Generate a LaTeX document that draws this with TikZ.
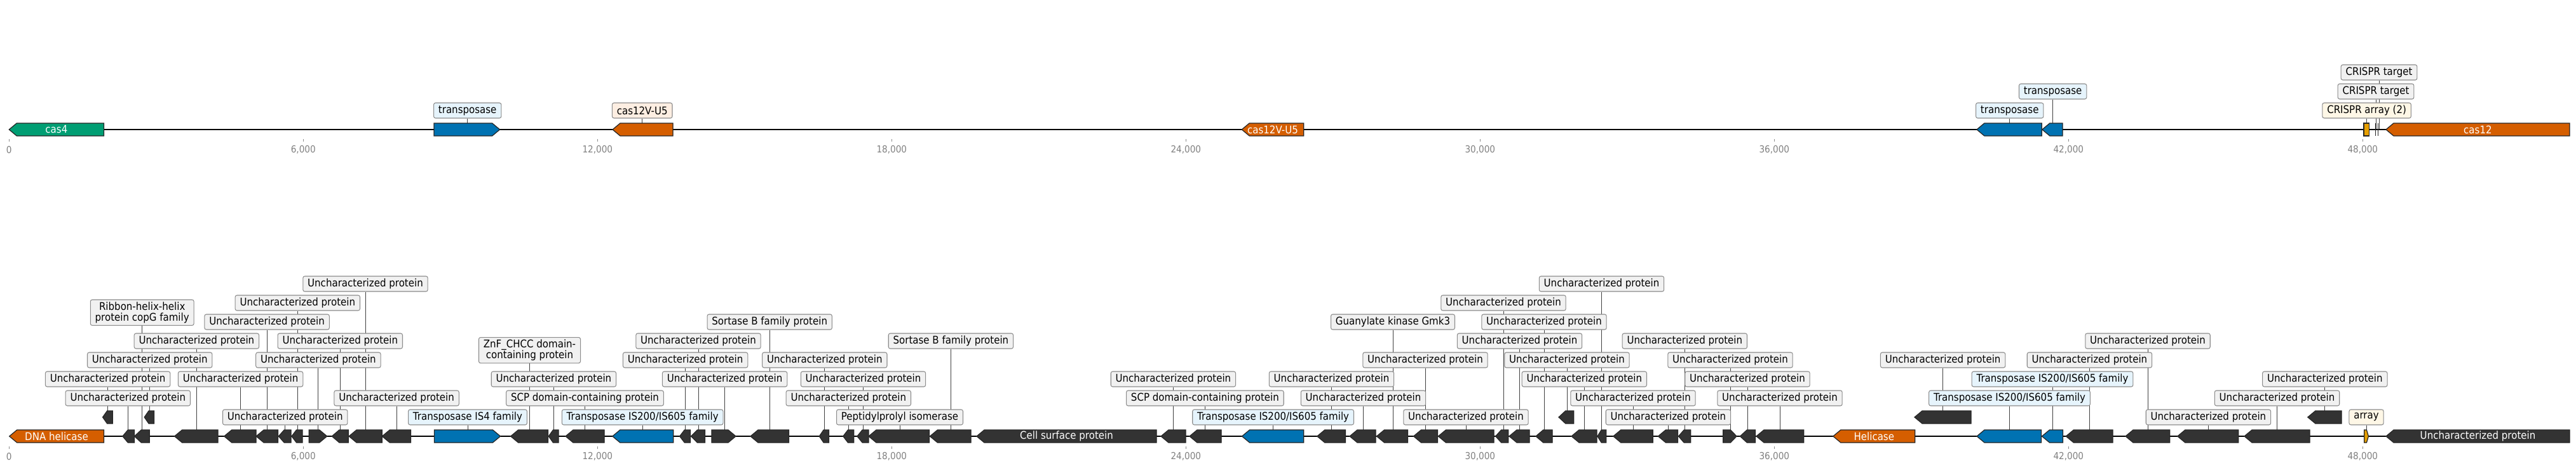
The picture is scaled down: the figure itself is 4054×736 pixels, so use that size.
\documentclass[tikz,border=0pt]{standalone}
\usepackage{fontspec}
\setmainfont{DejaVu Sans}[FakeStretch=0.9]
\usetikzlibrary{calc}

\definecolor{casgreen}{HTML}{009E73}
\definecolor{tnpblue}{HTML}{0072B2}
\definecolor{casorange}{HTML}{D55E00}
\definecolor{arrayyellow}{HTML}{E69F00}
\definecolor{hypo}{HTML}{333333}
\definecolor{boxgray}{HTML}{F1F1F1}
\definecolor{boxblue}{HTML}{E6F4FC}
\definecolor{boxorange}{HTML}{FDEEE2}
\definecolor{boxcream}{HTML}{FEF7E6}

\pgfdeclarelayer{bg}
\pgfsetlayers{bg,main}

% left / right pointing gene: start, end, centre y, fill
\newcommand{\lgene}[4]{%
  \pgfmathsetmacro\headlen{min(12,0.45*(#2-#1))}
  \draw[gene,fill=#4] (#1,#3) -- (#1+\headlen,#3-10) -- (#2,#3-10) -- (#2,#3+10) -- (#1+\headlen,#3+10) -- cycle;}
\newcommand{\rgene}[4]{%
  \pgfmathsetmacro\headlen{min(12,0.45*(#2-#1))}
  \draw[gene,fill=#4] (#1,#3-10) -- (#2-\headlen,#3-10) -- (#2,#3) -- (#2-\headlen,#3+10) -- (#1,#3+10) -- cycle;}
\newcommand{\unc}{Uncharacterized protein}

\tikzset{
  gene/.style={draw=black!85, line width=0.35pt},
  track/.style={line width=0.6pt},
  lbl/.style={draw=black!45, line width=0.3pt, fill=boxgray, rounded corners=0.8pt,
    inner xsep=2.1pt, inner ysep=1pt, minimum height=0.24cm, align=center,
    font=\fontsize{4.75}{4.9}\selectfont},
  tnplbl/.style={lbl, fill=boxblue},
  caslbl/.style={lbl, fill=boxorange},
  arraylbl/.style={lbl, fill=boxcream},
  leader/.style={black!75, line width=0.25pt},
  inlbl/.style={text=white, inner sep=0pt, font=\fontsize{4.75}{4.9}\selectfont},
  tickmark/.style={black!45, line width=0.25pt},
  ticklbl/.style={text=black!50, inner sep=0pt, font=\fontsize{4.3}{5}\selectfont}
}

\begin{document}
\begin{tikzpicture}[x=0.01cm, y=-0.01cm]
\useasboundingbox (0,0) rectangle (4054,736);

% backbones
\draw[track] (14.3,204) -- (4044,204);
\draw[track] (14.7,687) -- (4044,687);

% axes
\foreach \k/\lab in {0/0, 1/{6,000}, 2/{12,000}, 3/{18,000}, 4/{24,000},
    5/{30,000}, 6/{36,000}, 7/{42,000}, 8/{48,000}} {
  \draw[tickmark] (14.3+463*\k,219) -- ++(0,4);
  \node[ticklbl] (tt\k) at (14.3+463*\k,236) {\lab};
  \draw[tickmark] (14.3+463*\k,703) -- ++(0,4);
  \node[ticklbl] (bt\k) at (14.3+463*\k,719) {\lab};
}

%%% top record
\lgene{14.3}{163.4}{204}{casgreen}
\rgene{683}{786.6}{204}{tnpblue}
\lgene{964}{1059}{204}{casorange}
\lgene{1954.2}{2051.8}{204}{casorange}
\lgene{3110.9}{3213.1}{204}{tnpblue}
\lgene{3213.8}{3246}{204}{tnpblue}
\draw[gene,fill=arrayyellow] (3719.9,194) rectangle (3728.6,214);
\draw[gene] (3738.7,194) -- (3738.7,214);
\draw[gene] (3742.8,194) -- (3742.8,214);
\lgene{3754.9}{4043.9}{204}{casorange}

\node[inlbl] (cas4) at (88.9,204) {cas4};
\node[inlbl] (casu5) at (2003,204) {cas12V-U5};
\node[inlbl] (cas12) at (3899.4,204) {cas12};

\foreach \x/\r/\s/\t [count=\i] in {735.7/1/tnplbl/transposase, 1010.7/1/caslbl/cas12V-U5,
    3162.7/1/tnplbl/transposase, 3230.6/2/tnplbl/transposase,
    3724.6/1/arraylbl/CRISPR array (2), 3739/2/lbl/CRISPR target, 3744/3/lbl/CRISPR target} {
  \coordinate (tg\i) at (\x,204);
  \node[\s] (tl\i) at (\x,204-30*\r) {\t};
  \begin{pgfonlayer}{bg}\draw[leader] (tg\i) -- (tl\i);\end{pgfonlayer}
}

%%% bottom record
\lgene{14.7}{163.4}{687}{casorange}
\lgene{2884.8}{3013.8}{687}{casorange}
\foreach \a/\b in {192.9/211.6, 211.6/235.3, 274.6/342.9, 352.7/403.1, 403.1/437.5,
    438.4/458, 458.9/475.9, 522.3/548.2, 549.1/601.3, 601.3/646.4, 803.6/862.5,
    863.4/879, 890/951, 1069.6/1086.6, 1087.5/1109.4, 1181/1241.5, 1289.3/1304.5,
    1326.8/1343.75, 1349/1367, 1367/1462.5, 1463.4/1528, 1537/1820, 1827/1866,
    1872/1922, 2072.8/2117.4, 2124/2165, 2166.5/2215.6, 2224.5/2262.5, 2263.4/2351,
    2353.6/2373.7, 2375/2407, 2417/2443, 2473/2513, 2514/2527.7, 2538.8/2601.3,
    2609.4/2640.6, 2641.5/2660.7, 2738.4/2762.5, 2764/2838.8, 3251.3/3325,
    3345/3414.7, 3426.8/3522.8, 3532/3635, 3755/4044}
  {\lgene{\a}{\b}{687}{hypo}}
\foreach \a/\b in {486.2/514.7, 1120/1158, 2711.6/2733}
  {\rgene{\a}{\b}{687}{hypo}}
\foreach \a/\b in {161.6/177.2, 227.2/242.4, 2453/2476.8, 3013/3102, 3631.8/3685}
  {\lgene{\a}{\b}{657}{hypo}}
\rgene{683.5}{787.5}{687}{tnpblue}
\foreach \a/\b in {963.8/1059.8, 1954.5/2051.8, 3111/3212.5, 3213.4/3246.4}
  {\lgene{\a}{\b}{687}{tnpblue}}
\rgene{3720.8}{3727.4}{687}{arrayyellow}

\node[inlbl] (dnahel) at (89,687) {DNA helicase};
\node[inlbl] (cellsurf) at (1678.5,687) {Cell surface protein};
\node[inlbl] (hel) at (2949.3,687) {Helicase};
\node[inlbl] (lastunc) at (3899.5,687) {\unc};

% labels of the hypothetical proteins
\foreach \x/\g/\r [count=\i] in {169.6/657/3, 201.3/687/2, 235.7/657/4, 309.4/687/5,
    378.6/687/3, 420.1/687/6, 448.7/687/1, 468.3/687/7, 500.9/687/4, 535.3/687/5,
    575/687/8, 624.1/687/2, 871.4/687/3, 1078.6/687/4, 1099/687/5, 1140.6/687/3,
    1297.8/687/4, 1335.3/687/2, 1358.5/687/3, 1846.4/687/3, 2095.5/687/3,
    2145.5/687/2, 2243/687/4, 2307/687/1, 2366/687/7, 2391.5/687/5, 2430/687/6,
    2466/657/4, 2493.3/687/3, 2520.5/687/8, 2570/687/2, 2625.4/687/1, 2651.3/687/5,
    2723/687/4, 2750/687/3, 2801/687/2, 3057.6/657/4, 3288.4/687/4, 3380/687/5,
    3475.4/687/1, 3583.5/687/2, 3658.8/657/3} {
  \coordinate (ug\i) at (\x,\g);
  \node[lbl] (ul\i) at (\x,687-30*\r) {\unc};
  \begin{pgfonlayer}{bg}\draw[leader] (ug\i) -- (ul\i);\end{pgfonlayer}
}

% other annotated proteins
\foreach \x/\r/\s/\t [count=\i] in {920.5/2/lbl/SCP domain-containing protein,
    1211.2/6/lbl/Sortase B family protein, 1416/1/lbl/Peptidylprolyl isomerase,
    1496.4/5/lbl/Sortase B family protein, 1896.4/2/lbl/SCP domain-containing protein,
    2192/6/lbl/Guanylate kinase Gmk3, 736/1/tnplbl/Transposase IS4 family,
    1011.2/1/tnplbl/{Transposase IS200/IS605 family}, 2003.6/1/tnplbl/{Transposase IS200/IS605 family},
    3162.5/2/tnplbl/{Transposase IS200/IS605 family}, 3230/3/tnplbl/{Transposase IS200/IS605 family},
    3724/1/arraylbl/array} {
  \coordinate (og\i) at (\x,687);
  \node[\s] (ol\i) at (\x,687-30*\r) {\t};
  \begin{pgfonlayer}{bg}\draw[leader] (og\i) -- (ol\i);\end{pgfonlayer}
}

% two-line labels
\coordinate (ribg) at (223.7,687);
\node[lbl] (ribl) at (223.7,492.2) {Ribbon-helix-helix\\protein copG family};
\coordinate (znfg) at (833.5,687);
\node[lbl] (znfl) at (833.5,551.6) {ZnF\_CHCC domain-\\containing protein};
\begin{pgfonlayer}{bg}
  \draw[leader] (ribg) -- (ribl);
  \draw[leader] (znfg) -- (znfl);
\end{pgfonlayer}
\end{tikzpicture}
\end{document}
